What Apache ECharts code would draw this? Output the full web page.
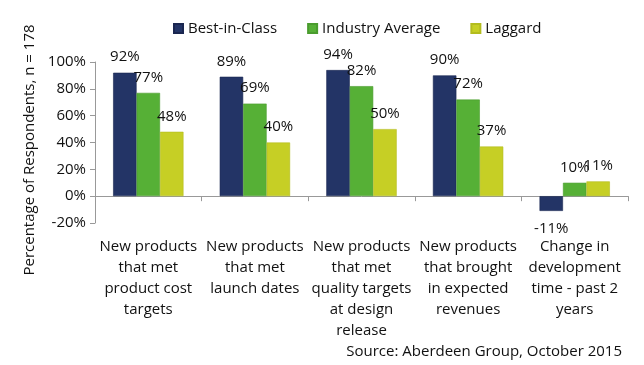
<!DOCTYPE html>
<html>
<head>
<meta charset="utf-8">
<script src="https://cdn.jsdelivr.net/npm/echarts@6/dist/echarts.min.js"></script>
<style>html,body{margin:0;padding:0;background:#fff;}#c{width:644px;height:365px;}</style>
</head>
<body>
<div id="c"></div>
<script>
const categories = [
  "New products\nthat met\nproduct cost\ntargets",
  "New products\nthat met\nlaunch dates",
  "New products\nthat met\nquality targets\nat design\nrelease",
  "New products\nthat brought\nin expected\nrevenues",
  "Change in\ndevelopment\ntime - past 2\nyears"
];
const seriesNames = ["Best-in-Class", "Industry Average", "Laggard"];
const bestInClass = [92, 89, 94, 90, -11];
const industryAverage = [77, 69, 82, 72, 10];
const laggard = [48, 40, 50, 37, 11];
const yTicks = { min: -20, max: 100, interval: 20 };
const yAxisTitle = 'Percentage of Respondents, n = 178';
const sourceText = 'Source: Aberdeen Group, October 2015';
const colors = ["#233466", "#56B036", "#C6CF25"];
const borders = ["#1a2650", "#4a9c2e", "#b3bc1e"];
const font = "Open Sans";

const chart = echarts.init(document.getElementById('c'));
const mk = (name, data, i) => ({
  name: name,
  type: 'bar',
  data: data,
  barGap: '0%',
  barCategoryGap: '34%',
  itemStyle: { color: colors[i], borderColor: borders[i], borderWidth: 0.6 },
  label: {
    show: true,
    position: 'top',
    distance: 8,
    formatter: p => p.value + '%',
    color: '#111',
    fontFamily: font,
    fontSize: 15
  },
  labelLayout: { hideOverlap: false },
  animation: false
});
const s0 = mk(seriesNames[0], bestInClass.map(v => v < 0 ? { value: v, label: { position: 'bottom', distance: 10 } } : v), 0);
chart.setOption({
  animation: false,
  textStyle: { fontFamily: font },
  legend: {
    data: seriesNames,
    left: 168,
    top: 16,
    itemWidth: 9,
    itemHeight: 9,
    itemGap: 30,
    icon: 'rect',
    textStyle: { fontFamily: font, fontSize: 15, color: '#111' }
  },
  title: {
    text: sourceText,
    right: 17,
    bottom: 1,
    textStyle: { fontFamily: font, fontSize: 15, fontWeight: 'normal', color: '#111' }
  },
  graphic: [{
    type: 'text',
    x: 30,
    y: 150,
    rotation: Math.PI / 2,
    style: {
      text: yAxisTitle,
      fontFamily: font,
      fontSize: 15,
      fill: '#111',
      align: 'center',
      verticalAlign: 'middle'
    }
  }],
  grid: { left: 95, right: 16, top: 62, bottom: 142, containLabel: false },
  xAxis: [
    {
      type: 'category',
      data: categories,
      position: 'bottom',
      axisLine: { onZero: true, lineStyle: { color: '#999', width: 1 } },
      axisTick: { show: true, length: 5, lineStyle: { color: '#999' } },
      axisLabel: { show: false }
    },
    {
      type: 'category',
      data: categories,
      position: 'bottom',
      axisLine: { show: false, onZero: false },
      axisTick: { show: false },
      axisLabel: { show: true, interval: 0, margin: 13, fontFamily: font, fontSize: 15, lineHeight: 21, color: '#111' }
    }
  ],
  yAxis: {
    type: 'value',
    min: yTicks.min,
    max: yTicks.max,
    interval: yTicks.interval,
    axisLine: { show: true, lineStyle: { color: '#999' } },
    axisTick: { show: true, length: 5, lineStyle: { color: '#999' } },
    splitLine: { show: false },
    axisLabel: { formatter: '{value}%', fontFamily: font, fontSize: 15, color: '#111', margin: 9 }
  },
  series: [s0, mk(seriesNames[1], industryAverage, 1), mk(seriesNames[2], laggard, 2)]
});
</script>
</body>
</html>
